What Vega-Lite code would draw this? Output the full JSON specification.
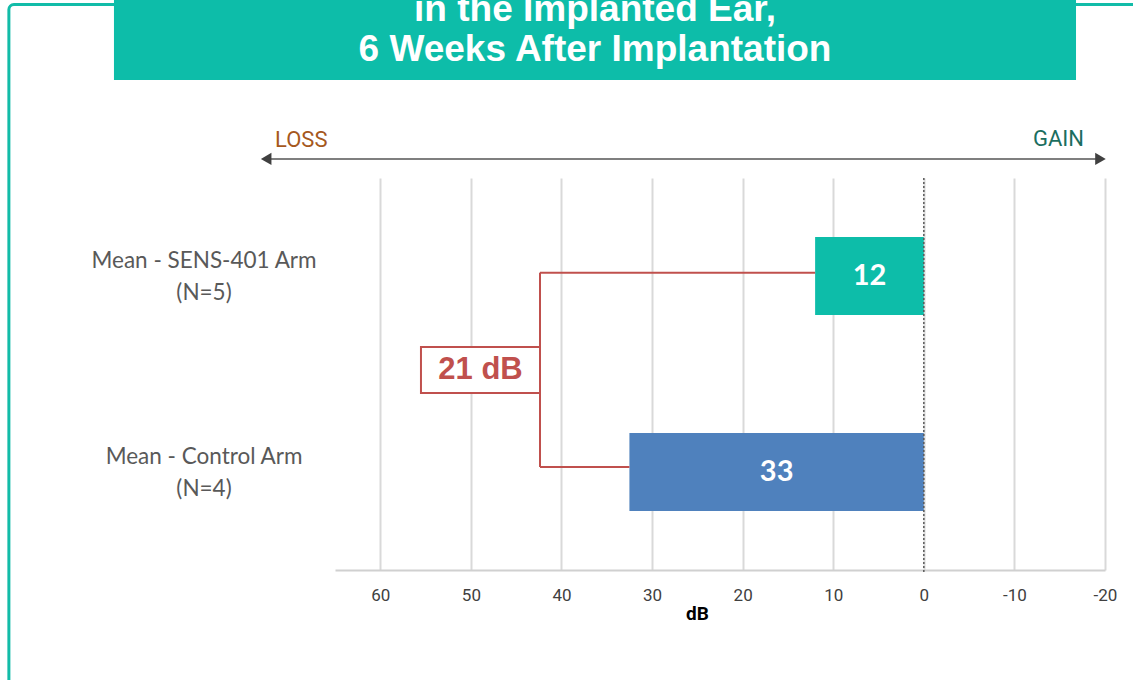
{
  "$schema": "https://vega.github.io/schema/vega-lite/v6.json",
  "width": 770,
  "height": 392,
  "padding": {"left": 335, "top": 178, "right": 28, "bottom": 110},
  "autosize": {"type": "none"},
  "background": "white",
  "view": {"stroke": null},
  "config": {"font": "Lato"},
  "data": {"values": [
    {"arm": "Mean - SENS-401 Arm\n(N=5)", "row": 1, "value": 12, "label": "12"},
    {"arm": "Mean - Control Arm\n(N=4)", "row": 0, "value": 32.5, "label": "33"}
  ]},
  "layer": [
    {
      "data": {"values": [{}]},
      "mark": {"type": "rect", "filled": false, "stroke": "#12BCA8", "strokeWidth": 3, "cornerRadius": 5, "clip": false},
      "encoding": {
        "x": {"datum": 101.0, "scale": {"domain": [-20, 65], "reverse": true, "nice": false, "zero": false}},
        "x2": {"datum": -30},
        "y": {"datum": 2.385, "scale": {"domain": [-0.5, 1.5], "nice": false, "zero": false, "padding": 0}, "axis": null},
        "y2": {"datum": -2}
      }
    },
    {
      "data": {"values": [{}]},
      "mark": {"type": "rect", "fill": "#0DBDA9", "clip": false},
      "encoding": {
        "x": {"datum": 89.4, "scale": {"domain": [-20, 65], "reverse": true, "nice": false, "zero": false}},
        "x2": {"datum": -16.8},
        "y": {"datum": 2.45, "scale": {"domain": [-0.5, 1.5], "nice": false, "zero": false, "padding": 0}, "axis": null},
        "y2": {"datum": 2.0}
      }
    },
    {
      "data": {"values": [{}]},
      "mark": {"type": "text", "text": ["in the Implanted Ear,", "6 Weeks After Implantation"], "font": "Liberation Sans", "fontWeight": "bold", "fontSize": 37, "lineHeight": 40.5, "color": "white", "align": "center", "baseline": "alphabetic", "clip": false},
      "encoding": {
        "x": {"datum": 36.3, "scale": {"domain": [-20, 65], "reverse": true, "nice": false, "zero": false}},
        "y": {"datum": 2.3026, "scale": {"domain": [-0.5, 1.5], "nice": false, "zero": false, "padding": 0}, "axis": null}
      }
    },
    {
      "data": {"values": [{}]},
      "mark": {"type": "rule", "color": "#7F7F7F", "strokeWidth": 2, "clip": false},
      "encoding": {
        "x": {"datum": 72.3, "scale": {"domain": [-20, 65], "reverse": true, "nice": false, "zero": false}},
        "x2": {"datum": -19.3},
        "y": {"datum": 1.597, "scale": {"domain": [-0.5, 1.5], "nice": false, "zero": false, "padding": 0}, "axis": null}
      }
    },
    {
      "data": {"values": [{}]},
      "mark": {"type": "point", "shape": "triangle-left", "filled": true, "color": "#404040", "size": 150, "opacity": 1, "clip": false},
      "encoding": {
        "x": {"datum": 72.6, "scale": {"domain": [-20, 65], "reverse": true, "nice": false, "zero": false}},
        "y": {"datum": 1.597, "scale": {"domain": [-0.5, 1.5], "nice": false, "zero": false, "padding": 0}, "axis": null}
      }
    },
    {
      "data": {"values": [{}]},
      "mark": {"type": "point", "shape": "triangle-right", "filled": true, "color": "#404040", "size": 150, "opacity": 1, "clip": false},
      "encoding": {
        "x": {"datum": -19.5, "scale": {"domain": [-20, 65], "reverse": true, "nice": false, "zero": false}},
        "y": {"datum": 1.597, "scale": {"domain": [-0.5, 1.5], "nice": false, "zero": false, "padding": 0}, "axis": null}
      }
    },
    {
      "data": {"values": [{}]},
      "mark": {"type": "text", "text": "LOSS", "font": "Roboto", "fontSize": 22, "color": "#A5581D", "align": "left", "baseline": "alphabetic", "clip": false},
      "encoding": {
        "x": {"datum": 71.62, "scale": {"domain": [-20, 65], "reverse": true, "nice": false, "zero": false}},
        "y": {"datum": 1.66, "scale": {"domain": [-0.5, 1.5], "nice": false, "zero": false, "padding": 0}, "axis": null}
      }
    },
    {
      "data": {"values": [{}]},
      "mark": {"type": "text", "text": "GAIN", "font": "Roboto", "fontSize": 22, "color": "#1B6E5F", "align": "right", "baseline": "alphabetic", "clip": false},
      "encoding": {
        "x": {"datum": -17.68, "scale": {"domain": [-20, 65], "reverse": true, "nice": false, "zero": false}},
        "y": {"datum": 1.663, "scale": {"domain": [-0.5, 1.5], "nice": false, "zero": false, "padding": 0}, "axis": null}
      }
    },
    {
      "mark": {"type": "bar", "orient": "horizontal", "size": 78},
      "encoding": {
        "x": {"field": "value", "type": "quantitative", "scale": {"domain": [-20, 65], "reverse": true, "nice": false, "zero": false},
          "axis": {"values": [60, 50, 40, 30, 20, 10, 0, -10, -20], "labelExpr": "datum.value < 0 ? '-' + abs(datum.value) : '' + datum.value", "labelFlush": false, "grid": true, "gridColor": "#D9D9D9", "gridWidth": 2, "domainColor": "#D0D0D0", "domainWidth": 2, "ticks": false, "tickSize": 0, "labelPadding": 17, "labelFont": "Roboto", "labelFontSize": 17, "labelColor": "#404040", "title": "dB", "titleX": 362, "titleAlign": "center", "titleFont": "Roboto", "titleFontSize": 19, "titleFontWeight": "bold", "titleColor": "#000000", "titlePadding": 1}},
        "x2": {"datum": 0},
        "y": {"field": "row", "type": "quantitative", "scale": {"domain": [-0.5, 1.5], "nice": false, "zero": false, "padding": 0}, "axis": null},
        "color": {"field": "arm", "type": "nominal", "scale": {"domain": ["Mean - SENS-401 Arm\n(N=5)", "Mean - Control Arm\n(N=4)"], "range": ["#0DBDA9", "#4F81BD"]}, "legend": null}
      }
    },
    {
      "data": {"values": [{}]},
      "mark": {"type": "rule", "color": "#595959", "strokeWidth": 1.5, "strokeDash": [2, 2], "clip": false},
      "encoding": {
        "x": {"datum": 0, "scale": {"domain": [-20, 65], "reverse": true, "nice": false, "zero": false}},
        "y": {"datum": 1.5, "scale": {"domain": [-0.5, 1.5], "nice": false, "zero": false, "padding": 0}, "axis": null},
        "y2": {"datum": -0.52}
      }
    },
    {
      "data": {"values": [{}]},
      "mark": {"type": "rule", "color": "#C0504D", "strokeWidth": 2, "clip": false},
      "encoding": {
        "x": {"datum": 42.37, "scale": {"domain": [-20, 65], "reverse": true, "nice": false, "zero": false}},
        "x2": {"datum": 12},
        "y": {"datum": 1.017, "scale": {"domain": [-0.5, 1.5], "nice": false, "zero": false, "padding": 0}, "axis": null}
      }
    },
    {
      "data": {"values": [{}]},
      "mark": {"type": "rule", "color": "#C0504D", "strokeWidth": 2, "clip": false},
      "encoding": {
        "x": {"datum": 42.37, "scale": {"domain": [-20, 65], "reverse": true, "nice": false, "zero": false}},
        "x2": {"datum": 32.5},
        "y": {"datum": 0.0255, "scale": {"domain": [-0.5, 1.5], "nice": false, "zero": false, "padding": 0}, "axis": null}
      }
    },
    {
      "data": {"values": [{}]},
      "mark": {"type": "rule", "color": "#C0504D", "strokeWidth": 2, "clip": false},
      "encoding": {
        "x": {"datum": 42.37, "scale": {"domain": [-20, 65], "reverse": true, "nice": false, "zero": false}},
        "y": {"datum": 1.017, "scale": {"domain": [-0.5, 1.5], "nice": false, "zero": false, "padding": 0}, "axis": null},
        "y2": {"datum": 0.0255}
      }
    },
    {
      "data": {"values": [{}]},
      "mark": {"type": "rect", "fill": "white", "stroke": "#C0504D", "strokeWidth": 2, "clip": false},
      "encoding": {
        "x": {"datum": 55.51, "scale": {"domain": [-20, 65], "reverse": true, "nice": false, "zero": false}},
        "x2": {"datum": 42.37},
        "y": {"datum": 0.638, "scale": {"domain": [-0.5, 1.5], "nice": false, "zero": false, "padding": 0}, "axis": null},
        "y2": {"datum": 0.403}
      }
    },
    {
      "data": {"values": [{}]},
      "mark": {"type": "text", "text": "21 dB", "font": "Liberation Sans", "fontWeight": "bold", "fontSize": 31, "color": "#C0504D", "align": "center", "baseline": "middle", "clip": false},
      "encoding": {
        "x": {"datum": 48.94, "scale": {"domain": [-20, 65], "reverse": true, "nice": false, "zero": false}},
        "y": {"datum": 0.52, "scale": {"domain": [-0.5, 1.5], "nice": false, "zero": false, "padding": 0}, "axis": null}
      }
    },
    {
      "transform": [{"calculate": "datum.value / 2", "as": "mid"}],
      "mark": {"type": "text", "font": "Lato", "fontWeight": "bold", "fontSize": 29, "color": "white", "align": "center", "baseline": "middle"},
      "encoding": {
        "x": {"field": "mid", "type": "quantitative", "title": "dB", "scale": {"domain": [-20, 65], "reverse": true, "nice": false, "zero": false}},
        "y": {"field": "row", "type": "quantitative", "scale": {"domain": [-0.5, 1.5], "nice": false, "zero": false, "padding": 0}, "axis": null},
        "text": {"field": "label"}
      }
    },
    {
      "mark": {"type": "text", "font": "Lato", "fontSize": 22.5, "color": "#595959", "align": "center", "baseline": "middle", "lineBreak": "\n", "lineHeight": 32, "dy": -15, "clip": false},
      "encoding": {
        "x": {"datum": 79.46, "scale": {"domain": [-20, 65], "reverse": true, "nice": false, "zero": false}},
        "y": {"field": "row", "type": "quantitative", "scale": {"domain": [-0.5, 1.5], "nice": false, "zero": false, "padding": 0}, "axis": null},
        "text": {"field": "arm"}
      }
    }
  ]
}
